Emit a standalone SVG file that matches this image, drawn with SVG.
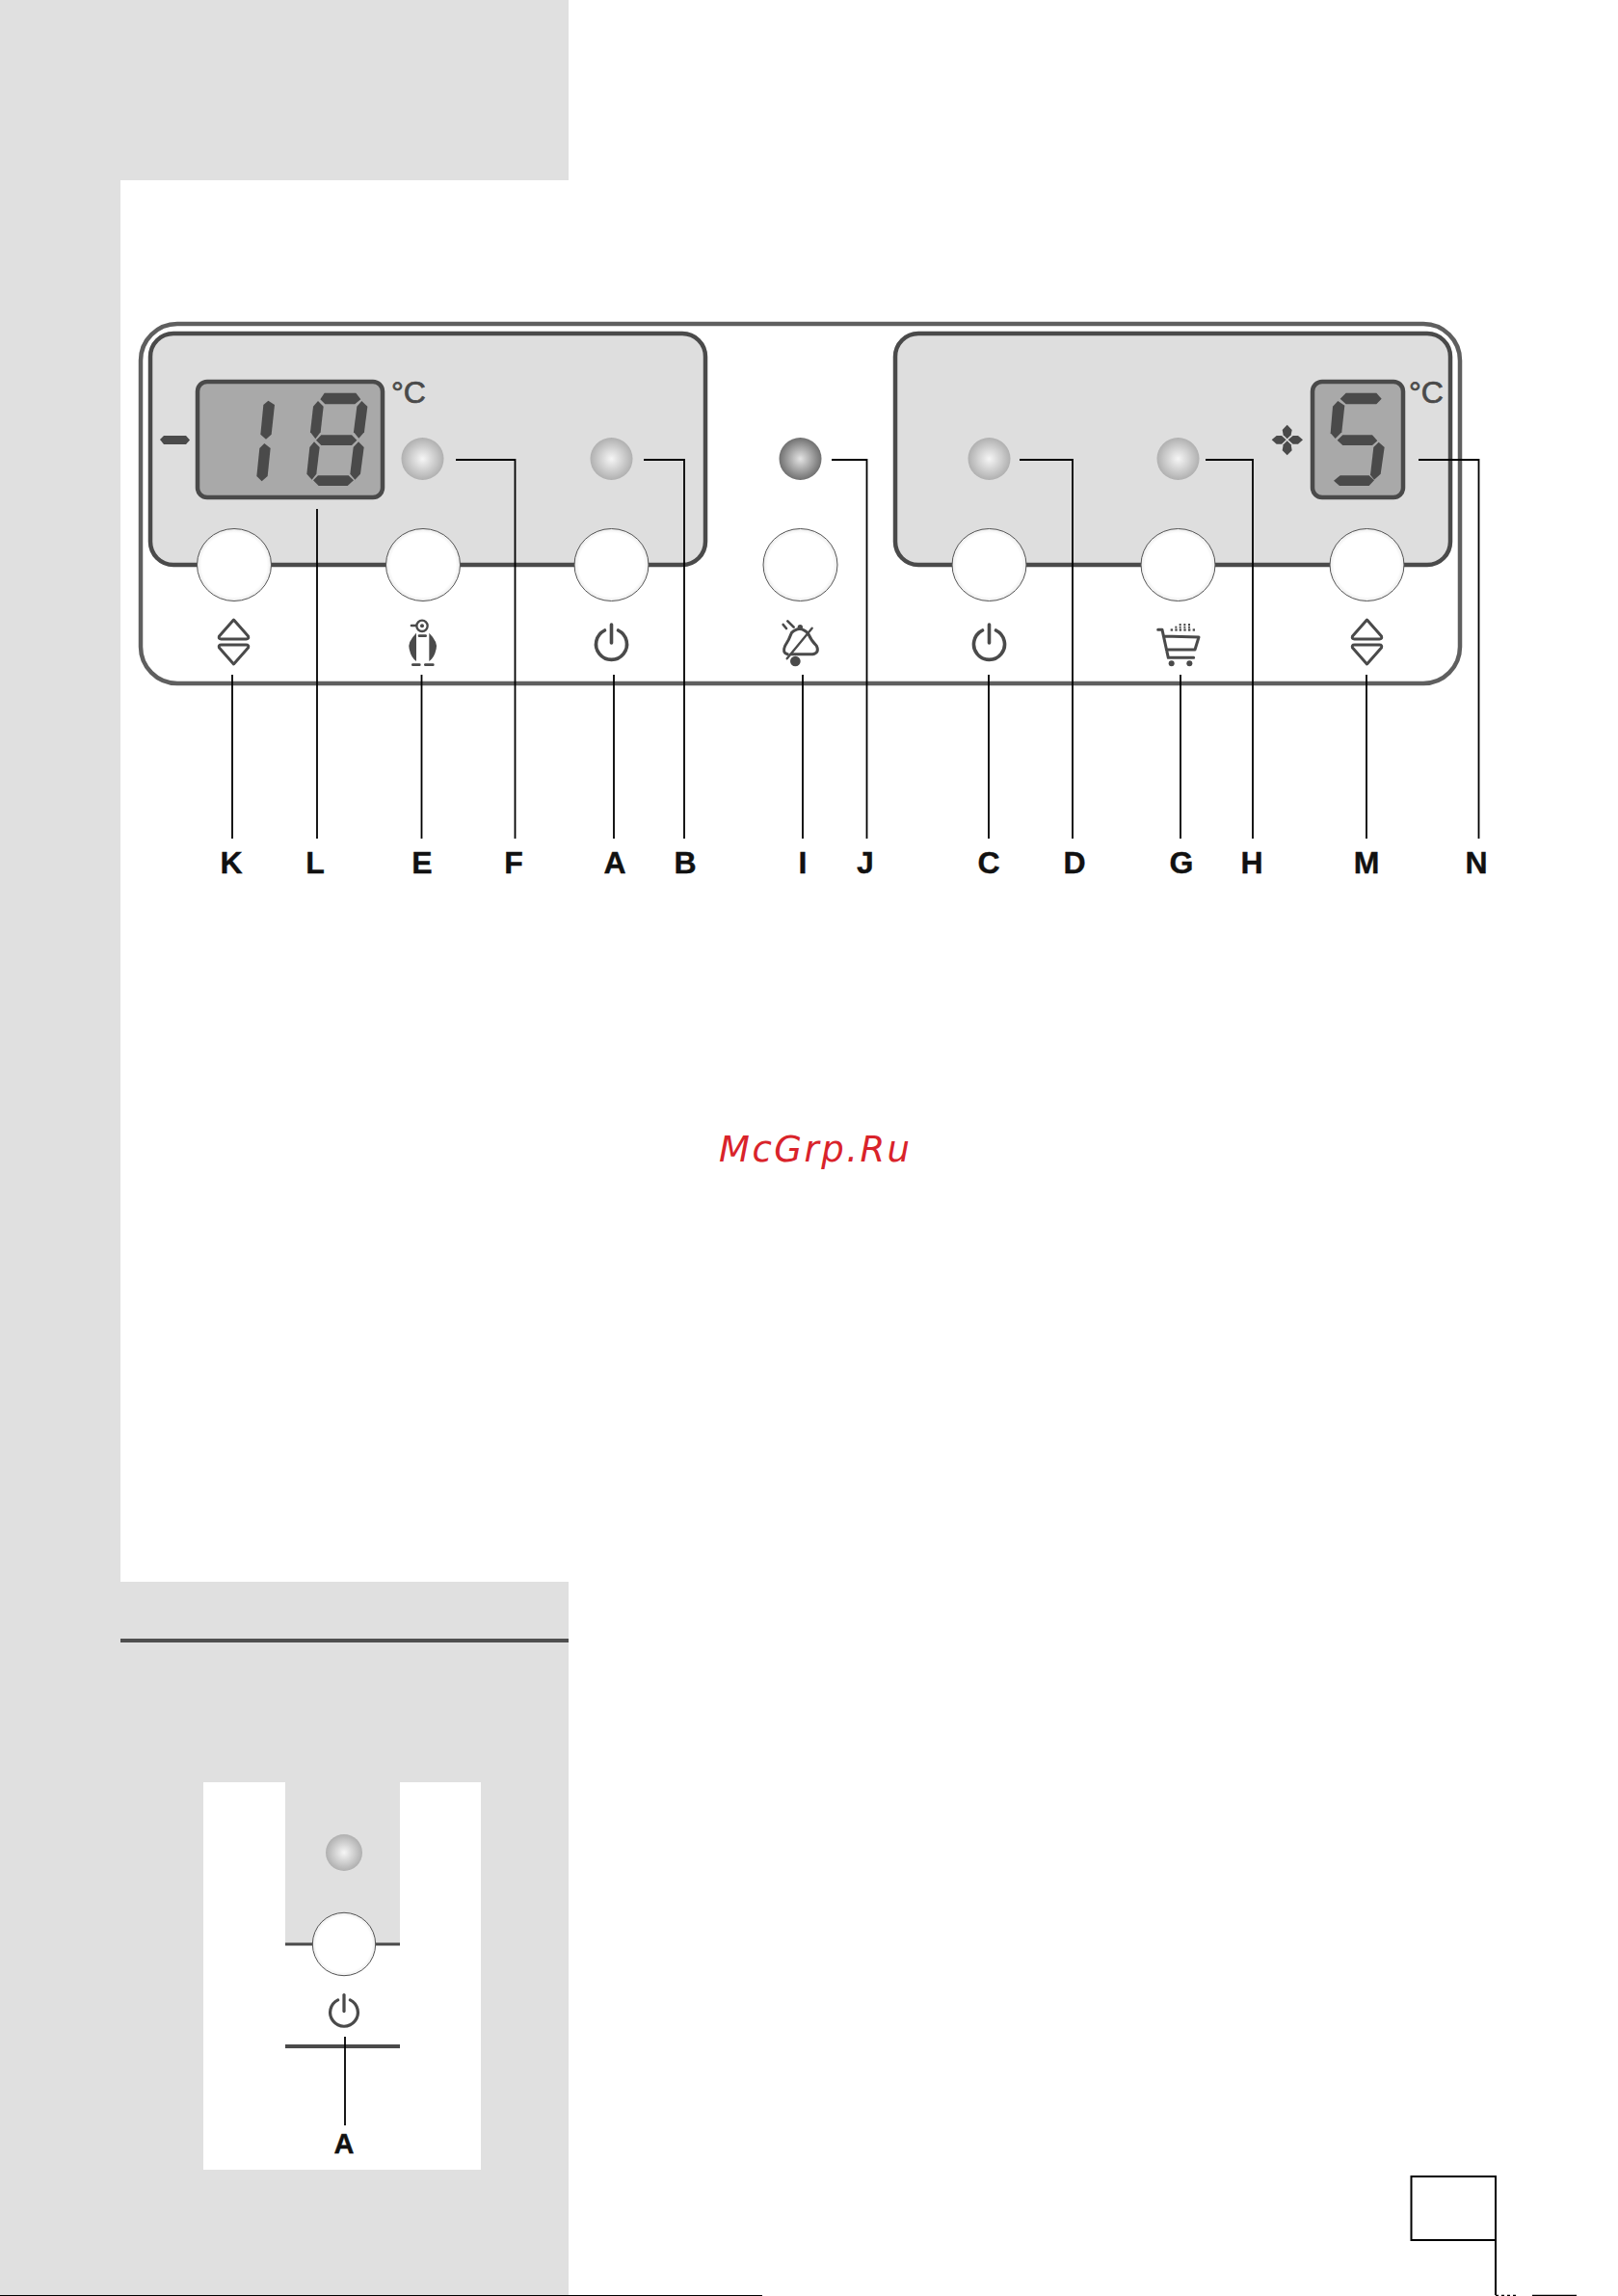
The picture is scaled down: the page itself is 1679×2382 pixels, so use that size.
<svg xmlns="http://www.w3.org/2000/svg" width="1679" height="2382" viewBox="0 0 1679 2382">
<style>
.bg{fill:#e0e0e0}
.dk{fill:#4a4a4a}
.seg{fill:#4a4a4a}
.panel{fill:#dedede;stroke:#4a4a4a;stroke-width:4.500}
.lcd{fill:#a9a9a9;stroke:#4a4a4a;stroke-width:4.500}
.btn{fill:url(#btnG);stroke:#555;stroke-width:1}
.led{fill:url(#ledG)}
.ln{fill:none;stroke:#000;stroke-width:1.800}
.ic{fill:none;stroke:#4a4a4a;stroke-linecap:round;stroke-linejoin:round}
.lab{font-family:"Liberation Sans",Arial,sans-serif;font-weight:700;font-size:32px;fill:#111;text-anchor:middle;stroke:#111;stroke-width:.4}
.deg{font-family:"Liberation Sans",Arial,sans-serif;font-size:32px;fill:#4a4a4a;stroke:#4a4a4a;stroke-width:.7}
</style>
<defs>
<radialGradient id="ledG"><stop offset="0" stop-color="#f6f6f6"/><stop offset="1" stop-color="#b0b0b0"/></radialGradient>
<radialGradient id="ledD"><stop offset="0" stop-color="#e4e4e4"/><stop offset="1" stop-color="#707070"/></radialGradient>
<radialGradient id="btnG"><stop offset="0" stop-color="#fff"/><stop offset=".88" stop-color="#fff"/><stop offset="1" stop-color="#ececec"/></radialGradient>
<g id="updown" class="ic" stroke-width="3">
<path d="M0 -22 L15 -5 Q16 -2 13 -2 H-13 Q-16 -2 -15 -5 Z"/>
<path d="M0 24 L15 7 Q16 4 13 4 H-13 Q-16 4 -15 7 Z"/>
</g>
<g id="power" class="ic" stroke-width="3.600">
<path d="M-7 -14 A16 16 0 1 0 7 -14"/>
<path d="M0 -20 V-1"/>
</g>
</defs>
<rect width="1679" height="2382" fill="#fff"/>
<g id="background">
<rect class="bg" x="0" y="0" width="590" height="187"/>
<rect class="bg" x="0" y="187" width="125" height="1454"/>
<rect class="bg" x="0" y="1641" width="590" height="741"/>
<rect x="125" y="1700" width="465" height="4" fill="#4f4f4f"/>
<rect x="0" y="2381" width="791" height="1.500" fill="#000"/>
</g>
<g id="control-panel">
<rect x="146" y="336" width="1369" height="373" rx="38" fill="#fff" stroke="#5f5f5f" stroke-width="4.500"/>
<rect class="panel" x="156" y="346" width="576" height="240" rx="24"/>
<rect class="panel" x="929" y="346" width="576" height="240" rx="24"/>
</g>
<g id="display-left">
<rect class="lcd" x="205" y="396" width="192" height="120" rx="10"/>
<polygon class="seg" points="166,456 170,452 193,452 197,456.500 193,461 170,461"/>
<g transform="translate(190 380) scale(.33333)">
<polygon class="seg" points="265,107 285,120 275,212 258,227 241,212 250,120"/>
<polygon class="seg" points="253,240 272,255 263,342 245,358 229,342 238,255"/>
<polygon class="seg" points="440,83 538,83 553,103 535,118 442,118 427,103"/>
<polygon class="seg" points="420,108 437,125 428,205 412,226 396,205 405,125"/>
<polygon class="seg" points="556,108 574,125 564,205 547,224 531,205 541,125"/>
<polygon class="seg" points="430,214 525,214 541,230 525,246 430,246 414,230"/>
<polygon class="seg" points="408,235 425,252 415,335 401,353 385,335 394,252"/>
<polygon class="seg" points="546,235 563,252 552,335 535,353 520,335 530,252"/>
<polygon class="seg" points="420,340 515,340 531,355 512,372 422,372 405,355"/>
</g>
<text class="deg" x="406" y="418">°C</text>
</g>
<g id="display-right">
<rect class="lcd" x="1362" y="396" width="94" height="120" rx="10"/>
<g transform="translate(1300 380) scale(.33333)">
<polygon class="seg" points="290,83 385,83 401,101 385,118 290,118 272,101"/>
<polygon class="seg" points="265,108 286,122 277,205 257,225 242,208 249,125"/>
<polygon class="seg" points="280,214 372,214 388,232 372,246 280,246 263,230"/>
<polygon class="seg" points="392,236 410,252 398,335 378,353 366,338 376,252"/>
<polygon class="seg" points="272,340 362,340 378,355 362,372 270,372 252,356"/>
<polygon class="seg" points="107,182 122,198 119,214 107,226 95,214 92,198"/>
<polygon class="seg" points="107,232 119,244 122,262 107,277 92,262 95,244"/>
<polygon class="seg" points="59,229 74,216 90,216 104,229 90,242 74,242"/>
<polygon class="seg" points="156,229 141,216 125,216 110,229 125,242 141,242"/>
</g>
<text class="deg" x="1462" y="418">°C</text>
</g>
<g id="leds">
<circle class="led" cx="438.500" cy="476" r="22"/>
<circle class="led" cx="634.500" cy="476" r="22"/>
<circle cx="830.500" cy="476" r="22" fill="url(#ledD)"/>
<circle class="led" cx="1026.500" cy="476" r="22"/>
<circle class="led" cx="1222.500" cy="476" r="22"/>
</g>
<g id="buttons">
<ellipse class="btn" cx="243" cy="586" rx="38.500" ry="37.500"/>
<ellipse class="btn" cx="439" cy="586" rx="38.500" ry="37.500"/>
<ellipse class="btn" cx="634.500" cy="586" rx="38.500" ry="37.500"/>
<ellipse class="btn" cx="830.500" cy="586" rx="38.500" ry="37.500"/>
<ellipse class="btn" cx="1026.500" cy="586" rx="38.500" ry="37.500"/>
<ellipse class="btn" cx="1222.500" cy="586" rx="38.500" ry="37.500"/>
<ellipse class="btn" cx="1418.500" cy="586" rx="38.500" ry="37.500"/>
</g>
<g id="icons">
<use href="#updown" x="242.500" y="665"/>
<use href="#updown" x="1418.500" y="665"/>
<use href="#power" x="634.500" y="668"/>
<use href="#power" x="1026.500" y="668"/>
<g id="icon-penguin" transform="translate(200 620) scale(.33333)">
<circle class="ic" cx="714" cy="88" r="17" stroke-width="7"/>
<circle class="dk" cx="714" cy="88" r="6"/>
<path class="ic" stroke-width="8" d="M681 87H696M705 119H725M685 209H706M724 209H748"/>
<path class="dk" d="M696 110Q668 138 674 160Q680 188 696 198Z"/>
<path class="dk" d="M736 110Q764 138 758 160Q752 188 736 198Z"/>
</g>
<g id="icon-bell" transform="translate(780 620) scale(.33333)">
<path class="ic" stroke-width="9" d="M122 176H190Q212 172 202 150Q186 135 176 112Q150 84 124 110Q116 132 104 150Q94 172 112 176"/>
<circle class="dk" cx="151" cy="92" r="8"/>
<path class="ic" stroke-width="7" d="M110 190L188 95"/>
<circle class="dk" cx="136" cy="198" r="16"/>
<path class="ic" stroke-width="8" d="M98 84L108 96M112 73L131 92"/>
</g>
<g id="icon-cart" transform="translate(780 620) scale(.33333)">
<path class="ic" stroke-width="9" d="M1265 100H1278L1297 187H1376M1283 120L1392 123L1380 162H1291"/>
<circle class="dk" cx="1307" cy="205" r="9"/>
<circle class="dk" cx="1363" cy="205" r="9"/>
<g class="dk">
<rect x="1331" y="81" width="6" height="6"/><rect x="1345" y="81" width="6" height="6"/><rect x="1359" y="81" width="6" height="6"/>
<rect x="1318" y="89" width="6" height="6"/><rect x="1331" y="89" width="6" height="6"/><rect x="1345" y="89" width="6" height="6"/><rect x="1359" y="89" width="6" height="6"/>
<rect x="1304" y="97" width="7" height="7"/><rect x="1318" y="97" width="7" height="7"/><rect x="1331" y="97" width="7" height="7"/><rect x="1345" y="97" width="7" height="7"/><rect x="1359" y="97" width="7" height="7"/><rect x="1373" y="97" width="7" height="7"/>
</g>
</g>
</g>
<g id="connectors">
<path class="ln" d="M241 700V870M437.500 700V870M637 700V870M833 700V870M1026 700V870M1225 700V870M1418 700V870M329 528V870"/>
<path class="ln" d="M473 477H534.500V870M668 477H710V870M863 477H899.500V870M1058 477H1113V870M1251 477H1300V870M1472 477H1534.500V870"/>
</g>
<g id="labels">
<text class="lab" x="240" y="906">K</text>
<text class="lab" x="327" y="906">L</text>
<text class="lab" x="438" y="906">E</text>
<text class="lab" x="533" y="906">F</text>
<text class="lab" x="638" y="906">A</text>
<text class="lab" x="711" y="906">B</text>
<text class="lab" x="833" y="906">I</text>
<text class="lab" x="898" y="906">J</text>
<text class="lab" x="1026" y="906">C</text>
<text class="lab" x="1115" y="906">D</text>
<text class="lab" x="1226" y="906">G</text>
<text class="lab" x="1299" y="906">H</text>
<text class="lab" x="1418" y="906">M</text>
<text class="lab" x="1532" y="906">N</text>
</g>
<text id="watermark" x="746" y="1205" font-family="'DejaVu Sans',sans-serif" font-style="oblique" font-size="37" letter-spacing="2.500" fill="#d9232a">McGrp.Ru</text>
<g id="inset">
<rect x="211" y="1849" width="288" height="402" fill="#fff"/>
<rect class="bg" x="296" y="1849" width="119" height="168"/>
<rect class="dk" x="296" y="2015.500" width="119" height="3"/>
<rect class="dk" x="296" y="2121" width="119" height="4"/>
<circle class="led" cx="357" cy="1922" r="19"/>
<circle class="btn" cx="357" cy="2017" r="32.700"/>
<use href="#power" transform="translate(357 2087.500) scale(.9)"/>
<path class="ln" d="M358 2113V2205"/>
<text class="lab" x="357" y="2234" style="font-size:29px">A</text>
</g>
<g id="page-box">
<rect x="1464.500" y="2258" width="87.500" height="66" fill="#fff" stroke="#000" stroke-width="2"/>
<path d="M1552 2324V2381" fill="none" stroke="#000" stroke-width="2"/>
<path d="M1552 2381.300H1576" fill="none" stroke="#000" stroke-width="1.200" stroke-dasharray="3 3"/>
<path d="M1590 2381.300H1636" fill="none" stroke="#000" stroke-width="1.200"/>
</g>
</svg>
